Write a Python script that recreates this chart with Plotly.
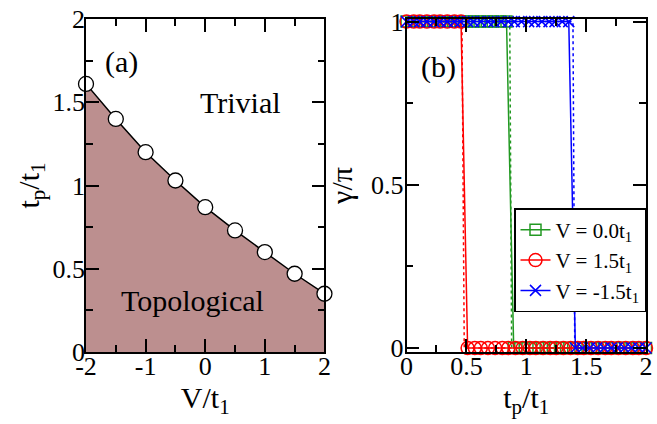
import plotly.graph_objects as go

# ---------------- Panel (a) data: phase boundary ----------------
V_vals = [-2.0, -1.5, -1.0, -0.5, 0.0, 0.5, 1.0, 1.5, 2.0]
tp_crit = [1.61, 1.40, 1.20, 1.03, 0.87, 0.73, 0.60, 0.47, 0.35]

# ---------------- Panel (b) data: Berry phase gamma/pi vs tp/t1 ----------------
# V = 0.0 t1 (green)
tp_g = [0.00, 0.06, 0.11, 0.17, 0.22, 0.28, 0.33, 0.39, 0.45, 0.50, 0.56, 0.61, 0.67, 0.72, 0.78, 0.835,
        0.895, 0.95, 1.01, 1.07, 1.13, 1.19, 1.24, 1.30, 1.36, 1.42, 1.48, 1.54, 1.59, 1.65, 1.71, 1.77,
        1.83, 1.88, 1.94, 2.00]
gam_g = [1]*16 + [0]*20
# V = 1.5 t1 (red)
tp_r = [0.00, 0.06, 0.11, 0.17, 0.23, 0.28, 0.34, 0.40, 0.455,
        0.51, 0.57, 0.62, 0.68, 0.74, 0.80, 0.85, 0.91, 0.97, 1.03, 1.08, 1.14, 1.20, 1.25, 1.31, 1.37,
        1.43, 1.48, 1.54, 1.60, 1.66, 1.71, 1.77, 1.83, 1.89, 1.94, 2.00]
gam_r = [1]*9 + [0]*27
# V = -1.5 t1 (blue)
tp_b = [0.00, 0.06, 0.11, 0.17, 0.23, 0.28, 0.34, 0.40, 0.45, 0.51, 0.56, 0.62, 0.68, 0.73, 0.79, 0.85,
        0.90, 0.96, 1.02, 1.07, 1.13, 1.19, 1.24, 1.30, 1.355,
        1.41, 1.47, 1.53, 1.59, 1.65, 1.71, 1.76, 1.82, 1.88, 1.94, 2.00]
gam_b = [1]*25 + [0]*11

# dotted reference curves (no markers)
tp_g_dot = [0.00, 0.862, 0.878, 2.00]
tp_r_dot = [0.00, 0.463, 0.482, 2.00]
tp_b_dot = [0.00, 1.390, 1.405, 2.00]
gam_dot = [1, 1, 0, 0]

legend_names = ["V = 0.0t<sub>1</sub>", "V = 1.5t<sub>1</sub>", "V = -1.5t<sub>1</sub>"]

GREEN = "#229922"
RED = "#ff0000"
BLUE = "#0000ff"
FONT = "Liberation Serif"

fig = go.Figure()

# Panel (a)
fig.add_trace(go.Scatter(
    x=V_vals, y=tp_crit, mode="lines+markers", fill="tozeroy",
    fillcolor="rosybrown", line=dict(color="black", width=1.5),
    marker=dict(symbol="circle", size=15, color="white", line=dict(color="black", width=1.3)),
    cliponaxis=False, showlegend=False, xaxis="x", yaxis="y"))

# Panel (b) dotted
for xs, c in [(tp_g_dot, GREEN), (tp_r_dot, RED), (tp_b_dot, BLUE)]:
    fig.add_trace(go.Scatter(
        x=xs, y=gam_dot, mode="lines", line=dict(color=c, width=1.5, dash="dot"),
        showlegend=False, xaxis="x2", yaxis="y2", cliponaxis=False))

fig.add_trace(go.Scatter(
    x=tp_g, y=gam_g, mode="lines+markers", name=legend_names[0],
    line=dict(color=GREEN, width=1.5),
    marker=dict(symbol="square-open", size=11, color=GREEN, line=dict(width=1.5)),
    cliponaxis=False, xaxis="x2", yaxis="y2"))
fig.add_trace(go.Scatter(
    x=tp_r, y=gam_r, mode="lines+markers", name=legend_names[1],
    line=dict(color=RED, width=1.5),
    marker=dict(symbol="circle-open", size=13, color=RED, line=dict(width=1.5)),
    cliponaxis=False, xaxis="x2", yaxis="y2"))
fig.add_trace(go.Scatter(
    x=tp_b, y=gam_b, mode="lines+markers", name=legend_names[2],
    line=dict(color=BLUE, width=1.5),
    marker=dict(symbol="x-thin-open", size=11, color=BLUE, line=dict(width=1.5, color=BLUE)),
    cliponaxis=False, xaxis="x2", yaxis="y2"))

axis_common = dict(
    showline=True, linecolor="black", linewidth=1.5, mirror="ticks",
    ticks="inside", ticklen=13, tickwidth=1.5, tickcolor="black",
    showgrid=False, zeroline=False,
    tickfont=dict(family=FONT, size=26, color="black"),
)
minor_base = dict(ticks="inside", ticklen=7, tickwidth=1.5, tickcolor="black", showgrid=False)

fig.update_layout(
    width=657, height=424,
    margin=dict(l=86, r=5, t=14, b=72),
    paper_bgcolor="white", plot_bgcolor="white",
    font=dict(family=FONT, color="black"),
    xaxis=dict(domain=[0, 0.4258], range=[-2, 2], tickvals=[-2, -1, 0, 1, 2],
               ticktext=["-2", "-1", "0", "1", "2"], ticklabelstandoff=-10,
               title=dict(text="V/t<sub>1</sub>", font=dict(family=FONT, size=30), standoff=0),
               anchor="y", minor=dict(minor_base, dtick=0.5), **axis_common),
    yaxis=dict(domain=[0, 1], range=[0, 2], tickvals=[0, 0.5, 1, 1.5, 2],
               ticktext=["0", "0.5", "1", "1.5", "2"], ticklabelstandoff=-6,
               title=dict(text="t<sub>p</sub>/t<sub>1</sub>", font=dict(family=FONT, size=30), standoff=4),
               anchor="x", minor=dict(minor_base, dtick=0.25), **axis_common),
    xaxis2=dict(domain=[0.5724, 1], range=[0, 2], tickvals=[0, 0.5, 1, 1.5, 2],
                ticktext=["0", "0.5", "1", "1.5", "2"], ticklabelstandoff=-10,
                title=dict(text="t<sub>p</sub>/t<sub>1</sub>", font=dict(family=FONT, size=30), standoff=0),
                anchor="y2", minor=dict(minor_base, dtick=0.25), **axis_common),
    yaxis2=dict(domain=[0, 1], range=[-0.012, 1.008], tickvals=[0, 0.5, 1],
                ticktext=["0", "0.5", "1"], ticklabelstandoff=-4,
                title=dict(text="γ/π", font=dict(family=FONT, size=30), standoff=10),
                anchor="x2", minor=dict(minor_base, dtick=0.25), **axis_common),
    legend=dict(x=1.0, y=0.432, xanchor="right", yanchor="top",
                bgcolor="white", bordercolor="black", borderwidth=1.5,
                font=dict(family=FONT, size=21, color="black"),
                tracegroupgap=0, itemsizing="trace"),
    annotations=[
        dict(text="(a)", x=-1.40, y=1.74, xref="x", yref="y", showarrow=False,
             font=dict(family=FONT, size=30)),
        dict(text="Trivial", x=0.59, y=1.50, xref="x", yref="y", showarrow=False,
             font=dict(family=FONT, size=30)),
        dict(text="Topological", x=-0.22, y=0.31, xref="x", yref="y", showarrow=False,
             font=dict(family=FONT, size=30)),
        dict(text="(b)", x=0.265, y=0.86, xref="x2", yref="y2", showarrow=False,
             font=dict(family=FONT, size=30)),
    ],
)

fig.write_html("out.html")
